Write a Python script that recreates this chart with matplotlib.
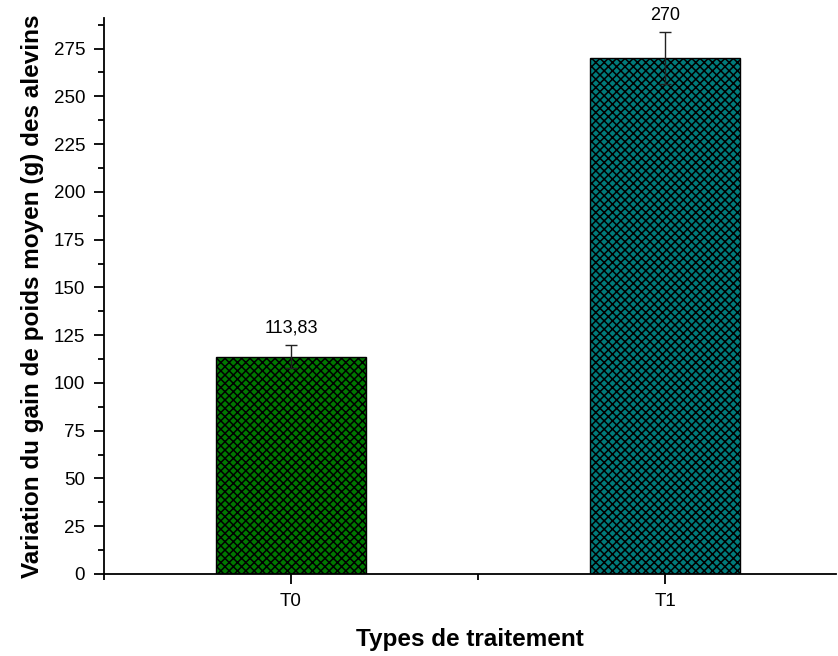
import matplotlib
matplotlib.use("Agg")
import matplotlib.pyplot as plt
from matplotlib.ticker import MultipleLocator, FixedLocator

plt.rcParams['font.family'] = ['Liberation Sans', 'DejaVu Sans']
plt.rcParams['hatch.linewidth'] = 1.1
plt.rcParams['hatch.color'] = 'black'

categories = ['T0', 'T1']
means = [113.83, 270]
errors = [6.0, 13.7]
value_labels = ['113,83', '270']
colors = ['#007800', '#007B7B']

fig = plt.figure(figsize=(8.38, 6.56), dpi=100)
ax = fig.add_axes([0.1241, 0.125, 0.8735, 0.8476])

x = [1, 2]
bars = ax.bar(x, means, width=0.4, color=colors, edgecolor='black',
              linewidth=1.0, hatch='xxxx', zorder=2)
ax.errorbar(x, means, yerr=errors, fmt='none', ecolor='#222222',
            elinewidth=1.0, capsize=4, capthick=1.0, zorder=3)

for xi, m, e, lab in zip(x, means, errors, value_labels):
    ax.annotate(lab, (xi, m + e), xytext=(0, 6), textcoords='offset points',
                ha='center', va='bottom', fontsize=13)

ax.set_xlim(0.5, 2.457)
ax.set_ylim(0, 291)
ax.set_xticks(x)
ax.set_xticklabels(categories)
ax.xaxis.set_minor_locator(FixedLocator([0.5, 1.5]))
ax.yaxis.set_major_locator(MultipleLocator(25))
ax.yaxis.set_minor_locator(MultipleLocator(12.5))

for side in ['top', 'right']:
    ax.spines[side].set_visible(False)
for side in ['left', 'bottom']:
    ax.spines[side].set_linewidth(1.3)

ax.tick_params(axis='both', which='major', length=7.5, width=1.3, labelsize=13.5,
               direction='out', pad=6)
ax.tick_params(axis='both', which='minor', length=4, width=1.3, direction='out')

ax.set_xlabel('Types de traitement', fontsize=17.5, fontweight='bold', labelpad=13)
ax.set_ylabel('Variation du gain de poids moyen (g) des alevins', fontsize=17.5,
              fontweight='bold', labelpad=7)

fig.savefig('out.png', dpi=100)
